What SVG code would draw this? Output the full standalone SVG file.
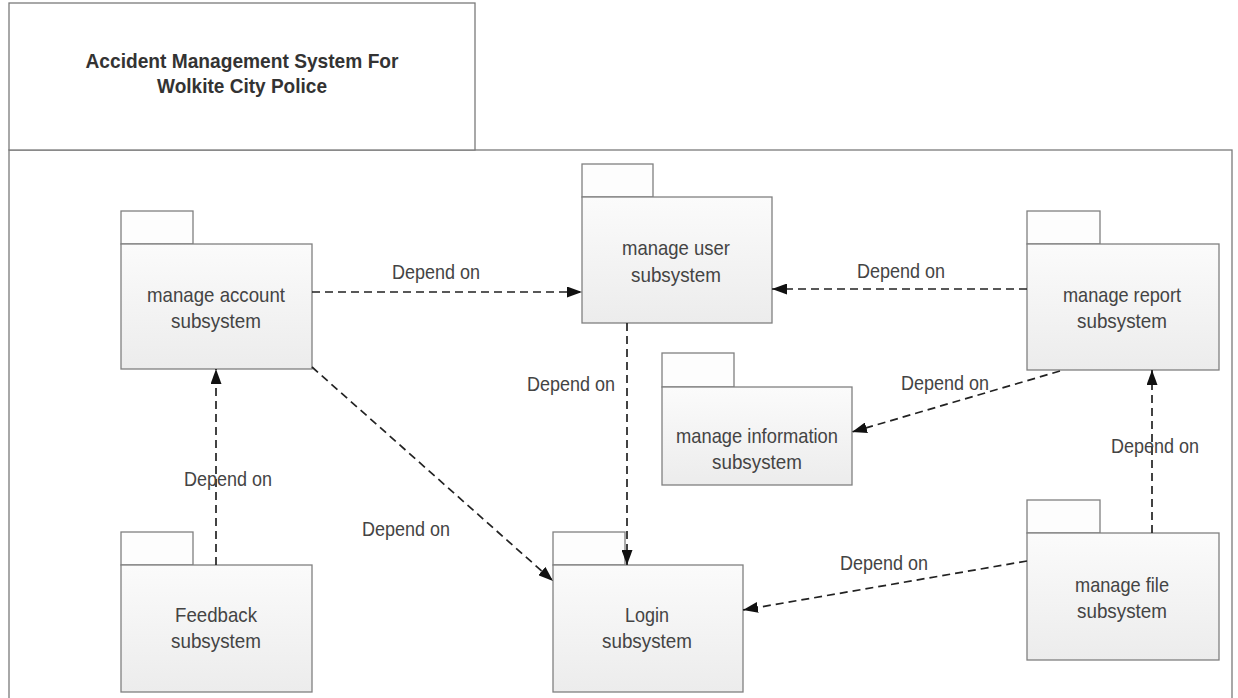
<svg xmlns="http://www.w3.org/2000/svg" width="1238" height="698" viewBox="0 0 1238 698">
  <defs>
    <linearGradient id="pkgFill" x1="0" y1="0" x2="0" y2="1">
      <stop offset="0" stop-color="#fbfbfb"/>
      <stop offset="1" stop-color="#ececec"/>
    </linearGradient>
    <marker id="arrow" viewBox="0 0 15 11" refX="15" refY="5.5" markerWidth="15" markerHeight="11" markerUnits="userSpaceOnUse" orient="auto">
      <path d="M0,0 L15,5.5 L0,11 Z" fill="#111"/>
    </marker>
    <style>
      .frame { fill: #ffffff; stroke: #7a7a7a; stroke-width: 1.3; }
      .tab { fill: #fdfdfd; stroke: #808080; stroke-width: 1.3; }
      .body { fill: url(#pkgFill); stroke: #808080; stroke-width: 1.3; }
      .title { font-family: "Liberation Sans", Arial, sans-serif; font-size: 21px; font-weight: bold; fill: #333; text-anchor: middle; }
      .lbl { font-family: "Liberation Sans", Arial, sans-serif; font-size: 21px; fill: #444; text-anchor: middle; }
      .dep { fill: none; stroke: #222; stroke-width: 1.7; stroke-dasharray: 8 5; marker-end: url(#arrow); }
      .dtxt { font-family: "Liberation Sans", Arial, sans-serif; font-size: 21px; fill: #444; text-anchor: middle; }
    </style>
  </defs>

  <rect width="1238" height="698" fill="#ffffff"/>

  <!-- system frame with its name compartment -->
  <g id="system-frame">
    <rect class="frame" x="9" y="150" width="1223" height="560"/>
    <rect class="frame" x="9" y="3" width="466" height="147"/>
    <text class="title" x="242" y="68" textLength="313" lengthAdjust="spacingAndGlyphs">Accident Management System For</text>
    <text class="title" x="242" y="93" textLength="170" lengthAdjust="spacingAndGlyphs">Wolkite City Police</text>
  </g>

  <!-- packages -->
  <g id="pkg-account">
    <rect class="tab" x="121" y="211" width="72" height="33"/>
    <rect class="body" x="121" y="244" width="191" height="125"/>
    <text class="lbl" x="216" y="302" textLength="138" lengthAdjust="spacingAndGlyphs">manage account</text>
    <text class="lbl" x="216" y="328" textLength="90" lengthAdjust="spacingAndGlyphs">subsystem</text>
  </g>

  <g id="pkg-user">
    <rect class="tab" x="582" y="164" width="71" height="33"/>
    <rect class="body" x="582" y="197" width="190" height="126"/>
    <text class="lbl" x="676" y="255" textLength="108" lengthAdjust="spacingAndGlyphs">manage user</text>
    <text class="lbl" x="676" y="282" textLength="90" lengthAdjust="spacingAndGlyphs">subsystem</text>
  </g>

  <g id="pkg-information">
    <rect class="tab" x="662" y="353" width="72" height="34"/>
    <rect class="body" x="662" y="387" width="190" height="98"/>
    <text class="lbl" x="757" y="443" textLength="162" lengthAdjust="spacingAndGlyphs">manage information</text>
    <text class="lbl" x="757" y="469" textLength="90" lengthAdjust="spacingAndGlyphs">subsystem</text>
  </g>

  <g id="pkg-report">
    <rect class="tab" x="1027" y="211" width="73" height="33"/>
    <rect class="body" x="1027" y="244" width="192" height="126"/>
    <text class="lbl" x="1122" y="302" textLength="118" lengthAdjust="spacingAndGlyphs">manage report</text>
    <text class="lbl" x="1122" y="328" textLength="90" lengthAdjust="spacingAndGlyphs">subsystem</text>
  </g>

  <g id="pkg-feedback">
    <rect class="tab" x="121" y="532" width="72" height="33"/>
    <rect class="body" x="121" y="565" width="191" height="127"/>
    <text class="lbl" x="216" y="622" textLength="82" lengthAdjust="spacingAndGlyphs">Feedback</text>
    <text class="lbl" x="216" y="648" textLength="90" lengthAdjust="spacingAndGlyphs">subsystem</text>
  </g>

  <g id="pkg-login">
    <rect class="tab" x="553" y="532" width="72" height="33"/>
    <rect class="body" x="553" y="565" width="190" height="127"/>
    <text class="lbl" x="647" y="622" textLength="44" lengthAdjust="spacingAndGlyphs">Login</text>
    <text class="lbl" x="647" y="648" textLength="90" lengthAdjust="spacingAndGlyphs">subsystem</text>
  </g>

  <g id="pkg-file">
    <rect class="tab" x="1027" y="500" width="73" height="33"/>
    <rect class="body" x="1027" y="533" width="192" height="127"/>
    <text class="lbl" x="1122" y="592" textLength="94" lengthAdjust="spacingAndGlyphs">manage file</text>
    <text class="lbl" x="1122" y="618" textLength="90" lengthAdjust="spacingAndGlyphs">subsystem</text>
  </g>

  <!-- dependency connectors -->
  <g id="connectors">
    <line class="dep" x1="312" y1="292" x2="582" y2="292"/>
    <line class="dep" x1="1027" y1="289" x2="772" y2="289"/>
    <line class="dep" x1="627" y1="323" x2="627" y2="565"/>
    <line class="dep" x1="312" y1="367" x2="553" y2="581"/>
    <line class="dep" x1="216" y1="565" x2="216" y2="369"/>
    <line class="dep" x1="1060" y1="371" x2="852" y2="432"/>
    <line class="dep" x1="1152" y1="533" x2="1152" y2="370"/>
    <line class="dep" x1="1027" y1="561" x2="743" y2="610"/>

    <text class="dtxt" x="436" y="279" textLength="88" lengthAdjust="spacingAndGlyphs">Depend on</text>
    <text class="dtxt" x="901" y="278" textLength="88" lengthAdjust="spacingAndGlyphs">Depend on</text>
    <text class="dtxt" x="571" y="391" textLength="88" lengthAdjust="spacingAndGlyphs">Depend on</text>
    <text class="dtxt" x="406" y="536" textLength="88" lengthAdjust="spacingAndGlyphs">Depend on</text>
    <text class="dtxt" x="228" y="486" textLength="88" lengthAdjust="spacingAndGlyphs">Depend on</text>
    <text class="dtxt" x="945" y="390" textLength="88" lengthAdjust="spacingAndGlyphs">Depend on</text>
    <text class="dtxt" x="1155" y="453" textLength="88" lengthAdjust="spacingAndGlyphs">Depend on</text>
    <text class="dtxt" x="884" y="570" textLength="88" lengthAdjust="spacingAndGlyphs">Depend on</text>
  </g>
</svg>
